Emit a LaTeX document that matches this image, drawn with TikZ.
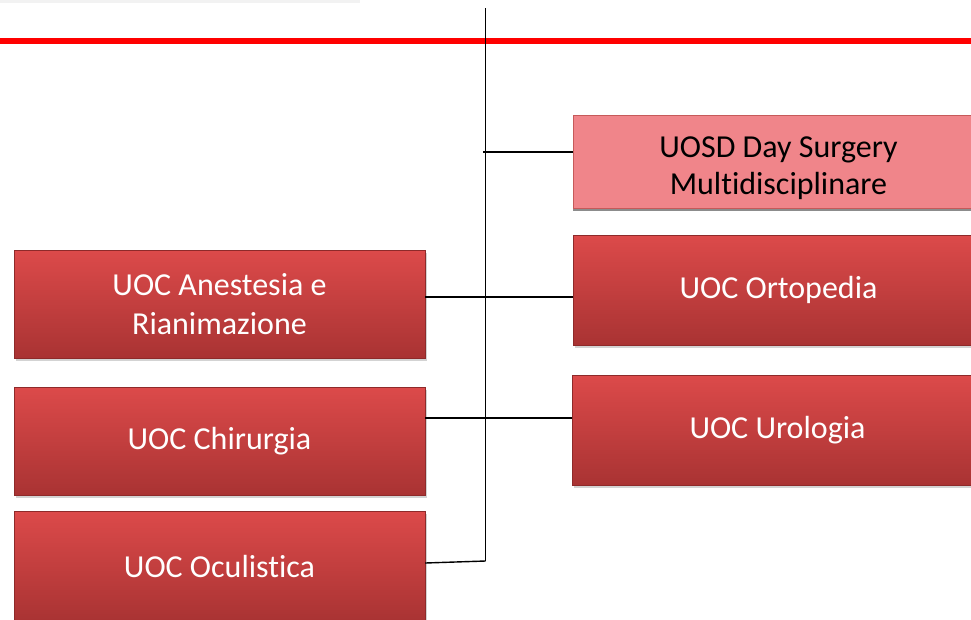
\documentclass[tikz,border=0pt]{standalone}
\usepackage{fontspec}
\setmainfont{Carlito}[Ligatures=NoCommon]
\usetikzlibrary{shadows}

\definecolor{unittop}{HTML}{DC4A4A}
\definecolor{unitbot}{HTML}{A93333}
\definecolor{unitline}{HTML}{8E2A2A}
\definecolor{dayfill}{HTML}{F0858A}
\definecolor{dayline}{HTML}{C65A5A}

\begin{document}
\begin{tikzpicture}[
        x=1pt, y=-1pt,
        unit/.style={rectangle, draw=unitline, thin, top color=unittop, bottom color=unitbot, minimum width=411pt, minimum height=108pt, text=white, align=center, font=\fontsize{32}{39}\selectfont, drop shadow={opacity=0.35, shadow xshift=2pt, shadow yshift=-3pt}},
        dayunit/.style={rectangle, draw=dayline, thin, fill=dayfill, minimum width=411pt, minimum height=93pt, text=black, align=center, font=\fontsize{32}{37}\selectfont, text height=72pt, text depth=7pt, drop shadow={fill=black!45, opacity=1, shadow xshift=0pt, shadow yshift=-3pt}},
        link/.style={draw=black, line width=1.4pt}
    ]
        \useasboundingbox (0,0) rectangle (971,619);
        \clip (0,0) rectangle (971,619);

        % Header rule and shadow of the box above
        \fill[black!5] (0,0) rectangle (360,3);
        \draw[red, line width=5.5pt] (0,41) -- (971,41);

        % Right column
        \node[dayunit] (daysurg) at (778.5, 161.5) {UOSD Day Surgery\\Multidisciplinare};
        \node[unit, minimum height=110pt] (ortopedia) at (778.5, 290) {UOC Ortopedia};
        \node[unit, minimum height=110pt] (urologia) at (777.5, 430) {UOC Urologia};

        % Left column
        \node[unit] (anestesia) at (219.5, 304) {UOC Anestesia e\\Rianimazione};
        \node[unit] (chirurgia) at (219.5, 441) {UOC Chirurgia};
        \node[unit, minimum height=110pt] (oculistica) at (219.5, 566) {UOC Oculistica};

        % Backbone
        \coordinate (spine_top) at (485.5, 8);
        \coordinate (spine_bottom) at (485.5, 561);
        \coordinate (day_tap) at (483, 152);
        \draw[link] (spine_top) -- (spine_bottom);

        % Connections
        \draw[link] (day_tap) -- (day_tap -| daysurg.west);
        \draw[link] ([yshift=7pt]anestesia.east) -- ([yshift=7pt]anestesia.east -| ortopedia.west);
        \draw[link] ([yshift=23pt]chirurgia.east) -- ([yshift=23pt]chirurgia.east -| urologia.west);
        \draw[link] ([yshift=3pt]oculistica.east) -- (spine_bottom);

    \end{tikzpicture}
\end{document}
